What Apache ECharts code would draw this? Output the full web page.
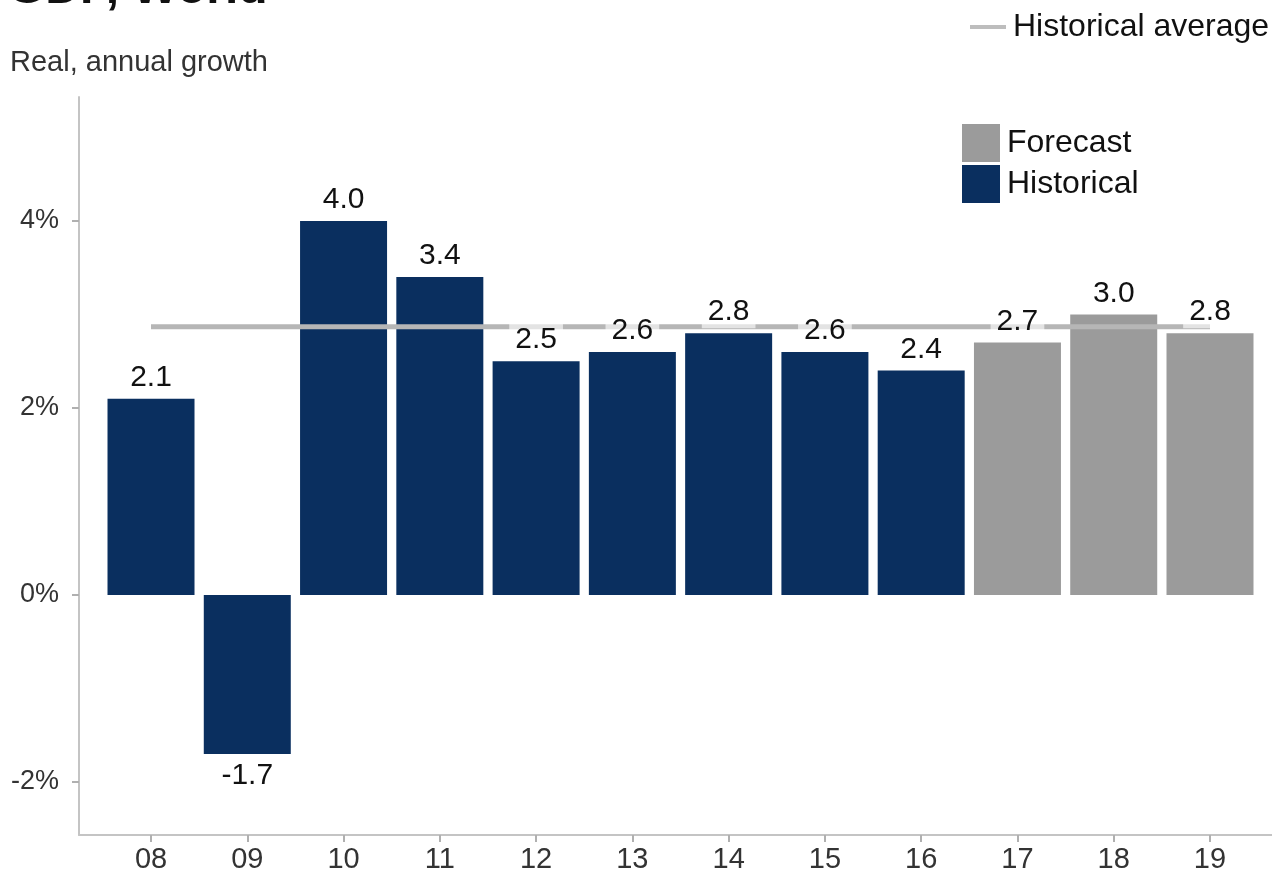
<!DOCTYPE html>
<html>
<head>
<meta charset="utf-8">
<title>GDP, World</title>
<script src="https://cdn.jsdelivr.net/npm/echarts@6/dist/echarts.min.js"></script>
<style>
  html, body { margin: 0; padding: 0; background: #fff; }
  #chart { width: 1272px; height: 879px; }
</style>
</head>
<body>
<div id="chart"></div>
<script>
// Years shown on the x axis
const years = ['08', '09', '10', '11', '12', '13', '14', '15', '16', '17', '18', '19'];
// Real GDP growth, % per year
const historical = [2.1, -1.7, 4.0, 3.4, 2.5, 2.6, 2.8, 2.6, 2.4];
const forecast = [2.7, 3.0, 2.8];
// Long-run average growth
const historicalAverage = 2.87;
const yTicks = [-2, 0, 2, 4];

const NAVY = '#0a2f5f';
const GREY = '#9b9b9b';
const FONT = '"Liberation Sans", Arial, sans-serif';

const toPoints = (vals, offset) => vals.map((v, i) => ({
  value: [offset + i, v],
  label: { position: v < 0 ? 'bottom' : 'top' }
}));
const histData = toPoints(historical, 0);
const foreData = toPoints(forecast, historical.length);
const allData = histData.concat(foreData);

const lastIdx = years.length - 1;

const chart = echarts.init(document.getElementById('chart'), null, { renderer: 'canvas' });

chart.setOption({
  animation: false,
  backgroundColor: '#fff',
  textStyle: { fontFamily: FONT },
  grid: { left: 79, right: 0, top: 97, bottom: 44 },
  graphic: [
    {
      type: 'text', left: 8, top: -34,
      style: { text: 'GDP, World', fontFamily: FONT, fontSize: 48, fontWeight: 'bold', fill: '#111' }
    },
    {
      type: 'text', left: 10, top: 48,
      style: { text: 'Real, annual growth', fontFamily: FONT, fontSize: 29, fill: '#333' }
    }
  ],
  legend: [
    {
      data: ['Historical average'],
      left: 965, top: 6,
      icon: 'rect', itemWidth: 36, itemHeight: 4,
      itemGap: 0,
      textStyle: { fontFamily: FONT, fontSize: 32, color: '#111', padding: [0, 0, 0, 2] }
    },
    {
      data: ['Forecast', 'Historical'],
      orient: 'vertical',
      left: 957, top: 119,
      icon: 'rect', itemWidth: 38, itemHeight: 38,
      itemGap: 3,
      textStyle: { fontFamily: FONT, fontSize: 32, color: '#111', padding: [0, 0, 0, 2] }
    }
  ],
  xAxis: {
    type: 'value',
    min: -0.748,
    max: 11.644,
    splitLine: { show: false },
    axisLine: { show: true, onZero: false, lineStyle: { color: '#c4c4c4', width: 2 } },
    axisTick: {
      show: true, length: 7, customValues: years.map((_, i) => i),
      lineStyle: { color: '#b0b0b0', width: 2 }
    },
    axisLabel: {
      customValues: years.map((_, i) => i),
      formatter: v => years[Math.round(v)],
      fontFamily: FONT, fontSize: 29, color: '#333', margin: 10
    }
  },
  yAxis: {
    type: 'value',
    min: -2.567,
    max: 5.326,
    splitLine: { show: false },
    axisLine: { show: true, onZero: false, lineStyle: { color: '#c4c4c4', width: 2 } },
    axisTick: {
      show: true, length: 7, customValues: yTicks,
      lineStyle: { color: '#b0b0b0', width: 2 }
    },
    axisLabel: {
      customValues: yTicks,
      formatter: v => v + '%',
      fontFamily: FONT, fontSize: 27, color: '#333', margin: 20
    }
  },
  series: [
    {
      name: 'Historical',
      type: 'bar',
      data: histData,
      barWidth: 87,
      barGap: '-100%',
      itemStyle: { color: NAVY },
      z: 2
    },
    {
      name: 'Forecast',
      type: 'bar',
      data: foreData,
      barWidth: 87,
      barGap: '-100%',
      itemStyle: { color: GREY },
      z: 2
    },
    {
      name: 'Historical average',
      type: 'line',
      data: [[0, historicalAverage], [lastIdx, historicalAverage]],
      symbol: 'none',
      itemStyle: { color: '#bdbdbd' },
      lineStyle: { color: '#b6b6b6', width: 5 },
      z: 3
    },
    {
      // value labels, drawn above the average line on soft white boxes
      name: 'values',
      type: 'bar',
      data: allData,
      barWidth: 87,
      barGap: '-100%',
      itemStyle: { color: 'rgba(0,0,0,0)' },
      silent: true,
      label: {
        show: true,
        fontFamily: FONT,
        fontSize: 30,
        color: '#111',
        distance: 5,
        padding: [2, 6, 1, 6],
        backgroundColor: 'rgba(255,255,255,0.62)',
        formatter: p => p.value[1].toFixed(1)
      },
      z: 5
    }
  ]
});
</script>
</body>
</html>
